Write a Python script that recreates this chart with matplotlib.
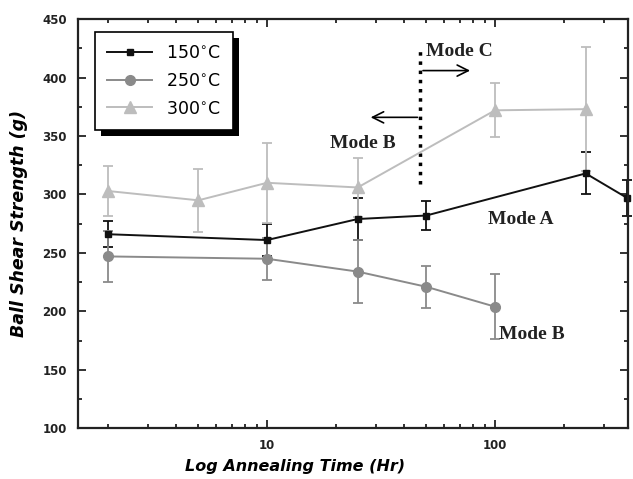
import matplotlib
matplotlib.use("Agg")
import matplotlib.pyplot as plt
from matplotlib.ticker import LogLocator, NullFormatter, FixedLocator, FixedFormatter, MultipleLocator
from matplotlib.patches import Rectangle
from matplotlib.lines import Line2D

# data
t150 = [2, 10, 25, 50, 250, 380]
s150 = [266, 261, 279, 282, 318, 297]
e150 = [11, 14, 18, 12, 18, 15]

t250 = [2, 10, 25, 50, 100]
s250 = [247, 245, 234, 221, 204]
e250 = [22, 18, 27, 18, 28]

t300 = [2, 5, 10, 25, 100, 250]
s300 = [303, 295, 310, 306, 372, 373]
e300 = [21, 27, 34, 25, 23, 53]

labels = [r"150$^{\circ}$C", r"250$^{\circ}$C", r"300$^{\circ}$C"]
colors = ["#111111", "#8a8a8a", "#bdbdbd"]

fig = plt.figure(figsize=(6.33, 4.79), dpi=100)
ax = fig.add_axes([0.123, 0.106, 0.869, 0.854])

series = [(t150, s150, e150, "s", 5), (t250, s250, e250, "o", 7), (t300, s300, e300, "^", 9)]
handles = []
for (t, s, e, m, ms), lab, c in zip(series, labels, colors):
    cont = ax.errorbar(t, s, yerr=e, color=c, marker=m, markersize=ms, lw=1.4,
                       elinewidth=1.3, capsize=3.5, capthick=1.3)
    for art in cont.get_children():
        art.set_clip_on(False)
    handles.append(Line2D([], [], color=c, marker=m, markersize=ms, lw=1.4, label=lab))

ax.set_xscale("log")
ax.set_xlim(1.48, 383)
ax.set_ylim(100, 450)
ax.xaxis.set_major_locator(FixedLocator([10, 100]))
ax.xaxis.set_major_formatter(FixedFormatter(["10", "100"]))
ax.xaxis.set_minor_locator(LogLocator(base=10, subs=range(2, 10)))
ax.xaxis.set_minor_formatter(NullFormatter())
ax.yaxis.set_major_locator(MultipleLocator(50))
ax.yaxis.set_minor_locator(MultipleLocator(25))
ax.tick_params(which="both", direction="in", top=True, right=True, width=1.3, colors="#222222")
ax.tick_params(which="major", length=6, labelsize=8.5, pad=8)
ax.tick_params(which="minor", length=3)
for lbl in ax.get_xticklabels() + ax.get_yticklabels():
    lbl.set_fontweight("bold")
for sp in ax.spines.values():
    sp.set_linewidth(1.6)
    sp.set_color("#222222")

ax.set_xlabel("Log Annealing Time (Hr)", fontsize=11.5, fontweight="bold", style="italic")
ax.xaxis.set_label_coords(0.395, -0.075)
ax.set_ylabel("Ball Shear Strength (g)", fontsize=12.5, fontweight="bold", style="italic")
ax.yaxis.set_label_coords(-0.09, 0.5)

# mode boundary and annotations
ax.plot([47, 47], [309, 426], color="black", ls=":", lw=2.5)
ax.annotate("", xy=(80, 406), xytext=(47, 406),
            arrowprops=dict(arrowstyle="->", lw=1.2, color="black", mutation_scale=20))
ax.annotate("", xy=(27.7, 366), xytext=(47, 366),
            arrowprops=dict(arrowstyle="->", lw=1.2, color="black", mutation_scale=20))
serif = dict(family="Liberation Serif", fontweight="bold", fontsize=14, color="#222222")
ax.text(50, 422, "Mode C", va="center", ha="left", **serif)
ax.text(18.9, 344, "Mode B", va="center", ha="left", **serif)
ax.text(93, 279, "Mode A", va="center", ha="left", **serif)
ax.text(104, 180, "Mode B", va="center", ha="left", **serif)

leg = ax.legend(handles=handles, loc="upper left", bbox_to_anchor=(0.031, 0.968),
                borderaxespad=0, fontsize=12.5, frameon=True, fancybox=False,
                edgecolor="black", facecolor="white", framealpha=1,
                handlelength=2.6, borderpad=0.7, labelspacing=0.55)
leg.get_frame().set_linewidth(1.2)

fig.canvas.draw()
bb = leg.get_window_extent().transformed(ax.transAxes.inverted())
dx, dy = 6 / (0.869 * 633), 6 / (0.854 * 479)
ax.add_patch(Rectangle((bb.x0 + dx, bb.y0 - dy), bb.width, bb.height, transform=ax.transAxes,
                       facecolor="black", edgecolor="none", zorder=4))
leg.set_zorder(5)

fig.savefig("out.png", dpi=100)
